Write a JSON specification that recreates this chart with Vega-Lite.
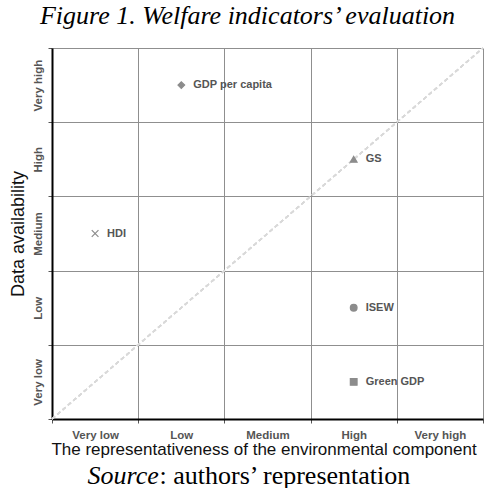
{
  "$schema": "https://vega.github.io/schema/vega-lite/v6.json",
  "width": 431,
  "height": 371,
  "autosize": {"type": "none"},
  "padding": {"left": 52, "top": 48, "right": 3, "bottom": 69},
  "background": "#ffffff",
  "title": {
    "text": "Figure 1. Welfare indicators’ evaluation",
    "font": "Liberation Serif",
    "fontStyle": "italic",
    "fontWeight": "normal",
    "fontSize": 26,
    "color": "#000000",
    "anchor": "middle",
    "dx": -20,
    "baseline": "alphabetic",
    "offset": -3
  },
  "config": {"view": {"stroke": null}},
  "data": {
    "values": [
      {"indicator": "GDP per capita", "environment": "Low", "availability": "Very high"},
      {"indicator": "GS", "environment": "High", "availability": "High"},
      {"indicator": "HDI", "environment": "Very low", "availability": "Medium"},
      {"indicator": "ISEW", "environment": "High", "availability": "Low"},
      {"indicator": "Green GDP", "environment": "High", "availability": "Very low"}
    ]
  },
  "resolve": {"scale": {"x": "independent"}},
  "layer": [
    {
      "mark": {"type": "rule", "color": "#d9d9d9", "strokeDash": [4, 3], "strokeWidth": 1.5},
      "encoding": {
        "x": {"value": 0},
        "y": {"value": "height"},
        "x2": {"value": "width"},
        "y2": {"value": 0}
      }
    },
    {
      "mark": {"type": "point", "filled": true, "opacity": 1, "color": "#8c8c8c", "stroke": "#8c8c8c", "strokeWidth": 1.2, "size": 45},
      "encoding": {
        "x": {
          "field": "environment",
          "type": "nominal",
          "scale": {"domain": ["Very low", "Low", "Medium", "High", "Very high"], "paddingInner": 0, "paddingOuter": 0},
          "axis": {
            "title": "The representativeness of the environmental component",
            "labelAngle": 0,
            "tickBand": "extent",
            "grid": true,
            "gridColor": "#8f8f8f",
            "gridWidth": 1,
            "domainColor": "#000000",
            "domainWidth": 2,
            "ticks": true,
            "tickSize": 4,
            "tickColor": "#555555",
            "labelFont": "Liberation Sans",
            "labelFontWeight": "bold",
            "labelFontSize": 11.5,
            "labelColor": "#555555",
            "labelPadding": 6,
            "titleFont": "Liberation Sans",
            "titleFontWeight": "normal",
            "titleFontSize": 17,
            "titleColor": "#111111",
            "titlePadding": 1,
            "titleX": 211.5,
            "titleAlign": "center"
          }
        },
        "y": {
          "field": "availability",
          "type": "nominal",
          "scale": {"domain": ["Very high", "High", "Medium", "Low", "Very low"], "paddingInner": 0, "paddingOuter": 0},
          "axis": {
            "title": "Data availability",
            "labelAngle": -90,
            "labelAlign": "center",
            "labelBaseline": "bottom",
            "tickBand": "extent",
            "grid": true,
            "gridColor": "#8f8f8f",
            "gridWidth": 1,
            "domainColor": "#000000",
            "domainWidth": 2,
            "ticks": true,
            "tickSize": 4,
            "tickColor": "#555555",
            "labelFont": "Liberation Sans",
            "labelFontWeight": "bold",
            "labelFontSize": 11.5,
            "labelColor": "#555555",
            "labelPadding": 5,
            "titleFont": "Liberation Sans",
            "titleFontWeight": "normal",
            "titleFontSize": 18,
            "titleColor": "#111111",
            "titlePadding": 5
          }
        },
        "shape": {
          "field": "indicator",
          "type": "nominal",
          "scale": {
            "domain": ["GDP per capita", "GS", "HDI", "ISEW", "Green GDP"],
            "range": ["diamond", "triangle-up", "M-1,-1L1,1M-1,1L1,-1", "circle", "square"]
          },
          "legend": null
        }
      }
    },
    {
      "mark": {"type": "text", "align": "left", "baseline": "middle", "dx": 12, "font": "Liberation Sans", "fontWeight": "bold", "fontSize": 11, "color": "#555555"},
      "encoding": {
        "x": {
          "field": "environment",
          "type": "nominal",
          "scale": {"domain": ["Very low", "Low", "Medium", "High", "Very high"], "paddingInner": 0, "paddingOuter": 0},
          "axis": {
            "orient": "bottom",
            "domain": false,
            "ticks": false,
            "labels": false,
            "grid": false,
            "title": "Source",
            "titleFont": "Liberation Serif",
            "titleFontStyle": "italic",
            "titleFontWeight": "normal",
            "titleFontSize": 26,
            "titleColor": "#000000",
            "titleX": 35,
            "titleY": 64,
            "titleAlign": "left",
            "titleBaseline": "alphabetic"
          }
        },
        "y": {"field": "availability", "type": "nominal"},
        "text": {"field": "indicator"}
      }
    },
    {
      "mark": {"type": "point", "opacity": 0},
      "encoding": {
        "x": {
          "field": "environment",
          "type": "nominal",
          "scale": {"domain": ["Very low", "Low", "Medium", "High", "Very high"], "paddingInner": 0, "paddingOuter": 0},
          "axis": {
            "orient": "bottom",
            "domain": false,
            "ticks": false,
            "labels": false,
            "grid": false,
            "title": ": authors’ representation",
            "titleFont": "Liberation Serif",
            "titleFontWeight": "normal",
            "titleFontSize": 26,
            "titleColor": "#000000",
            "titleX": 107,
            "titleY": 64,
            "titleAlign": "left",
            "titleBaseline": "alphabetic"
          }
        },
        "y": {"field": "availability", "type": "nominal"}
      }
    }
  ]
}
